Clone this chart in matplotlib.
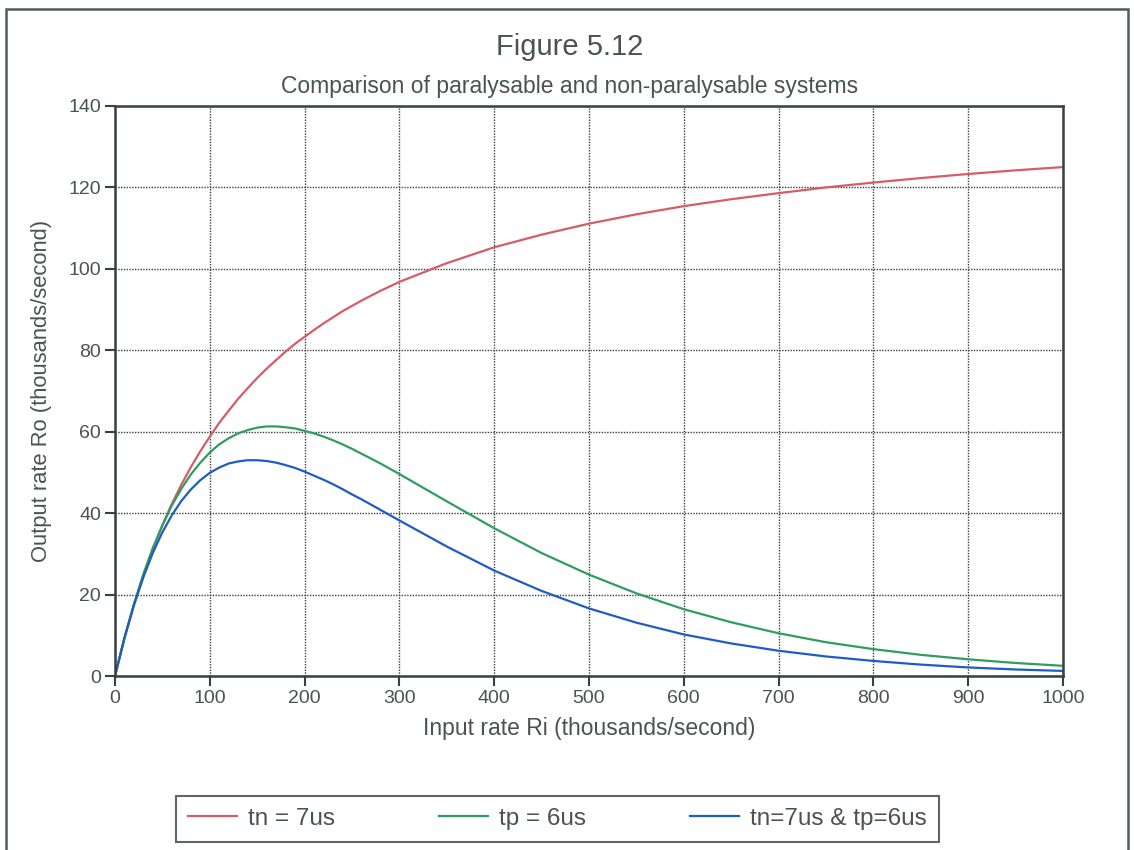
import matplotlib.pyplot as plt
from matplotlib.patches import Rectangle

# values
ri = [0, 10, 20, 30, 40, 50, 60, 70, 80, 90, 100, 110, 120, 130, 140, 150, 160, 170, 180,
      190, 200, 210, 220, 230, 240, 250, 260, 270, 280, 290, 300,
      350, 400, 450, 500, 550, 600, 650, 700, 750, 800, 850, 900, 950, 1000]
ro_tn = [0, 9.35, 17.5, 24.8, 31.3, 37.0, 42.3, 47.0, 51.3, 55.2, 58.8, 62.2, 65.2, 68.1,
         70.7, 73.2, 75.5, 77.6, 79.7, 81.6, 83.3, 85.0, 86.6, 88.1, 89.6, 90.9, 92.2,
         93.4, 94.6, 95.7, 96.8,
         101.4, 105.3, 108.4, 111.1, 113.4, 115.4, 117.1, 118.6, 120.0, 121.2, 122.3,
         123.3, 124.2, 125.0]
ro_tp = [0, 9.4, 17.7, 25.1, 31.5, 37.0, 41.9, 46.0, 49.5, 52.4, 54.9, 56.9, 58.4, 59.6,
         60.4, 61.0, 61.3, 61.3, 61.1, 60.8, 60.2, 59.6, 58.8, 57.9, 56.9, 55.8, 54.6,
         53.4, 52.2, 50.9, 49.6,
         42.9, 36.3, 30.2, 24.9, 20.3, 16.4, 13.2, 10.5, 8.3, 6.6, 5.2, 4.1, 3.2, 2.5]
ro_both = [0, 9.3, 17.4, 24.3, 30.3, 35.3, 39.5, 43.0, 45.8, 48.1, 49.9, 51.2, 52.2, 52.7,
           53.0, 53.0, 52.8, 52.4, 51.8, 51.1, 50.2, 49.2, 48.2, 47.1, 45.9, 44.6, 43.4,
           42.1, 40.8, 39.5, 38.2,
           31.8, 25.9, 20.9, 16.6, 13.1, 10.2, 8.0, 6.2, 4.8, 3.7, 2.8, 2.1, 1.6, 1.25]
labels = ['tn = 7us', 'tp = 6us', 'tn=7us & tp=6us']
colors = ['#d65c66', '#2e9e5e', '#1f5cc4']

txt = '#4a5252'
plt.rcParams['font.family'] = ['Liberation Sans', 'DejaVu Sans']
plt.rcParams['text.color'] = txt

fig = plt.figure(figsize=(11.34, 8.5), dpi=100)
ax = fig.add_axes([0.1014, 0.2047, 0.836, 0.6706])

lines = []
for y, c, lab in zip([ro_tn, ro_tp, ro_both], colors, labels):
    l, = ax.plot(ri, y, color=c, lw=1.6, label=lab)
    lines.append(l)

ax.set_xlim(0, 1000)
ax.set_ylim(0, 140)
ax.set_xticks(range(0, 1001, 100))
ax.set_yticks(range(0, 141, 20))
ax.grid(True, color='#3a3f3f', linestyle=(0, (1, 1)), lw=1.0)
for s in ax.spines.values():
    s.set_color('#3a3f3f')
    s.set_linewidth(1.8)
ax.tick_params(colors='#3a3f3f', labelcolor=txt, labelsize=14, length=7, width=1.5, pad=3)

ax.set_xlabel('Input rate Ri (thousands/second)', fontsize=16.5, color=txt, labelpad=7)
ax.set_ylabel('Output rate Ro (thousands/second)', fontsize=15.8, color=txt, labelpad=12)

fig.text(0.502, 0.945, 'Figure 5.12', ha='center', va='center', fontsize=21)
fig.text(0.502, 0.898, 'Comparison of paralysable and non-paralysable systems',
         ha='center', va='center', fontsize=16.5)

leg = fig.legend(handles=lines, loc='center', bbox_to_anchor=(0.4915, 0.0365),
                 ncol=3, frameon=True, fancybox=False, fontsize=17.5,
                 handlelength=2.0, handletextpad=0.45, columnspacing=4.3, borderpad=0.5)
leg.get_frame().set_edgecolor('#3a3f3f')
leg.get_frame().set_linewidth(1.5)

fig.patches.append(Rectangle((0.005, -0.05), 0.99, 1.04, transform=fig.transFigure,
                             fill=False, edgecolor='#555b5b', lw=1.8))

fig.savefig('out.png', dpi=100)
